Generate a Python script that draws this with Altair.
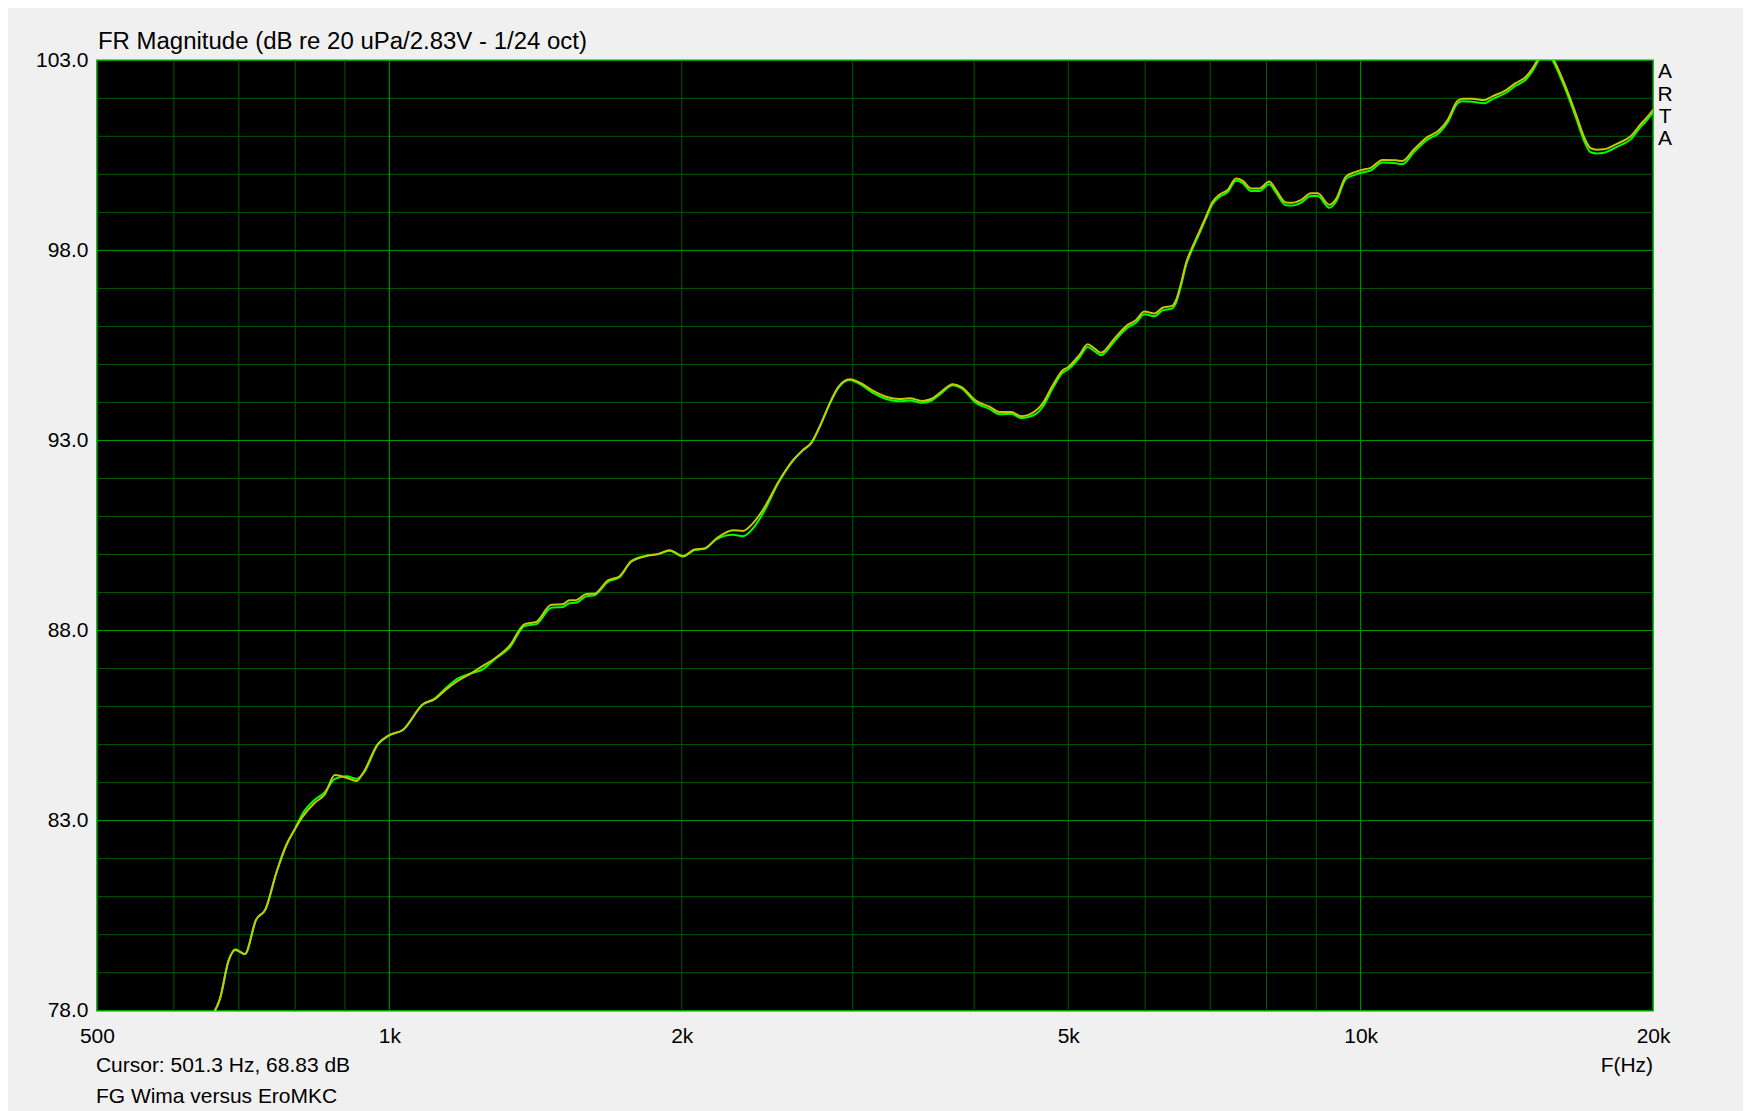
import altair as alt
import pandas as pd

# ---- data ----
freq = [645, 669, 683, 694, 710, 729, 746, 765, 784, 799, 815, 838, 858, 879, 903, 925, 940, 973, 997,
        1034, 1083, 1113, 1145, 1177, 1215, 1248, 1283, 1330, 1378, 1417, 1468, 1508, 1533, 1556, 1595,
        1626, 1679, 1726, 1774, 1839, 1890, 1943, 2006, 2062, 2111, 2171, 2258, 2312, 2367, 2424, 2522,
        2604, 2666, 2719, 2773, 2840, 2896, 2978, 3061, 3146, 3247, 3351, 3431, 3542, 3612, 3699, 3803,
        3879, 4019, 4148, 4249, 4367, 4470, 4631, 4705, 4820, 4935, 4993, 5134, 5236, 5320, 5405, 5578,
        5757, 5872, 5989, 6132, 6254, 6395, 6455, 6532, 6610, 6714, 6822, 6930, 7041, 7152, 7295, 7441,
        7561, 7711, 7865, 8054, 8182, 8374, 8500, 8677, 8888, 9031, 9284, 9432, 9655, 9848, 10003, 10241,
        10534, 10874, 11041, 11351, 11715, 12042, 12283, 12578, 12728, 13032, 13397, 13665, 14103, 14441,
        14788, 15024, 15201, 15500, 15813, 16258, 16648, 17046, 17249, 17500, 17805, 18377, 18966, 19422,
        19731, 20000]

db_yellow = [77.70, 78.30, 79.31, 79.60, 79.49, 80.39, 80.68, 81.63, 82.38, 82.77, 83.12, 83.47, 83.69,
             84.20, 84.13, 84.04, 84.26, 85.01, 85.23, 85.40, 86.06, 86.19, 86.46, 86.68, 86.88, 87.07,
             87.26, 87.60, 88.17, 88.23, 88.68, 88.69, 88.80, 88.80, 88.96, 88.97, 89.32, 89.43, 89.81,
             89.96, 90.01, 90.11, 89.96, 90.13, 90.16, 90.42, 90.64, 90.62, 90.82, 91.17, 91.96, 92.48,
             92.75, 92.94, 93.36, 93.97, 94.39, 94.61, 94.50, 94.31, 94.15, 94.09, 94.11, 94.04, 94.09,
             94.28, 94.48, 94.41, 94.04, 93.89, 93.75, 93.75, 93.64, 93.79, 93.97, 94.45, 94.85, 94.92,
             95.25, 95.53, 95.42, 95.31, 95.68, 96.04, 96.17, 96.39, 96.34, 96.49, 96.54, 96.69, 97.13,
             97.66, 98.10, 98.49, 98.89, 99.28, 99.46, 99.59, 99.89, 99.83, 99.63, 99.63, 99.81, 99.59,
             99.26, 99.25, 99.32, 99.50, 99.50, 99.20, 99.35, 99.94, 100.05, 100.11, 100.17, 100.38,
             100.37, 100.35, 100.66, 100.98, 101.16, 101.42, 101.93, 101.99, 101.99, 101.95, 102.05,
             102.21, 102.40, 102.56, 102.78, 103.00, 103.35, 103.00, 102.30, 101.60, 100.89, 100.69,
             100.65, 100.66, 100.81, 101.00, 101.32, 101.51, 101.70]

db_green = [77.70, 78.30, 79.31, 79.62, 79.49, 80.39, 80.68, 81.63, 82.38, 82.77, 83.20, 83.55, 83.75,
            84.10, 84.17, 84.10, 84.24, 85.00, 85.23, 85.40, 86.06, 86.21, 86.50, 86.74, 86.88, 86.98,
            87.24, 87.55, 88.12, 88.17, 88.60, 88.62, 88.72, 88.73, 88.90, 88.93, 89.28, 89.40, 89.83,
            89.97, 90.01, 90.10, 89.95, 90.12, 90.15, 90.40, 90.52, 90.48, 90.68, 91.08, 91.94, 92.47,
            92.74, 92.93, 93.35, 93.96, 94.37, 94.59, 94.46, 94.25, 94.09, 94.03, 94.05, 93.99, 94.04,
            94.24, 94.45, 94.38, 93.99, 93.83, 93.69, 93.70, 93.59, 93.70, 93.88, 94.38, 94.78, 94.86,
            95.18, 95.46, 95.35, 95.24, 95.61, 95.97, 96.10, 96.32, 96.27, 96.42, 96.47, 96.62, 97.07,
            97.61, 98.05, 98.44, 98.84, 99.22, 99.40, 99.53, 99.83, 99.77, 99.56, 99.56, 99.74, 99.52,
            99.19, 99.18, 99.25, 99.43, 99.43, 99.12, 99.28, 99.88, 99.98, 100.04, 100.10, 100.31,
            100.29, 100.27, 100.59, 100.91, 101.09, 101.35, 101.86, 101.92, 101.91, 101.87, 101.98,
            102.14, 102.33, 102.49, 102.71, 102.94, 103.28, 102.93, 102.22, 101.51, 100.79, 100.58,
            100.55, 100.57, 100.73, 100.92, 101.25, 101.44, 101.63]

x_grid_minor = [600, 700, 800, 900, 2000, 3000, 4000, 5000, 6000, 7000, 8000, 9000]
x_grid_major = [1000, 10000]
y_grid_minor = [79, 80, 81, 82, 84, 85, 86, 87, 89, 90, 91, 92, 94, 95, 96, 97, 99, 100, 101, 102]
y_grid_major = [83, 88, 93, 98]

x_tick_values = [500, 1000, 2000, 5000, 10000, 20000]
x_tick_labels = ["500", "1k", "2k", "5k", "10k", "20k"]
y_tick_values = [78, 83, 88, 93, 98, 103]

title_text = "FR Magnitude (dB re 20 uPa/2.83V - 1/24 oct)"
cursor_text = "Cursor: 501.3 Hz, 68.83 dB"
note_text = "FG Wima versus EroMKC"
xlabel_text = "F(Hz)"
arta_letters = ["A", "R", "T", "A"]

# ---- chart ----
W, H = 1557, 951
FONT = "Liberation Sans"

xscale = alt.Scale(type="log", domain=[500, 20000], nice=False)
yscale = alt.Scale(domain=[78, 103], nice=False, zero=False)

label_expr = "".join(f"datum.value == {v} ? '{l}' : " for v, l in zip(x_tick_values, x_tick_labels)) + "''"

x_axis = alt.Axis(values=x_tick_values, labelExpr=label_expr, grid=False, ticks=False, tickSize=0,
                  domain=False, labelFlush=False, labelOverlap=False, labelFont=FONT, labelFontSize=21,
                  labelColor="black", labelPadding=15, title=None)
y_axis = alt.Axis(values=y_tick_values, format=".1f", grid=False, ticks=False, tickSize=0, domain=False,
                  labelFont=FONT, labelFontSize=21, labelColor="black", labelPadding=9, title=None,
                  labelOverlap=False)

df = pd.DataFrame({"f": freq, "yellow": db_yellow, "green": db_green})

vminor = alt.Chart(pd.DataFrame({"f": x_grid_minor})).mark_rule(color="#005A00", strokeWidth=1).encode(
    x=alt.X("f:Q", scale=xscale, axis=x_axis))
vmajor = alt.Chart(pd.DataFrame({"f": x_grid_major})).mark_rule(color="#00A000", strokeWidth=1).encode(
    x=alt.X("f:Q", scale=xscale, axis=x_axis))
hminor = alt.Chart(pd.DataFrame({"d": y_grid_minor})).mark_rule(color="#005A00", strokeWidth=1).encode(
    y=alt.Y("d:Q", scale=yscale, axis=y_axis))
hmajor = alt.Chart(pd.DataFrame({"d": y_grid_major})).mark_rule(color="#00A000", strokeWidth=1).encode(
    y=alt.Y("d:Q", scale=yscale, axis=y_axis))

line_green = alt.Chart(df).mark_line(color="#00FF00", strokeWidth=2, clip=True,
                                     interpolate="monotone").encode(
    x=alt.X("f:Q", scale=xscale, axis=x_axis),
    y=alt.Y("green:Q", scale=yscale, axis=y_axis))
line_yellow = alt.Chart(df).mark_line(color="#C8C800", strokeWidth=2, clip=True,
                                      interpolate="monotone").encode(
    x=alt.X("f:Q", scale=xscale, axis=x_axis),
    y=alt.Y("yellow:Q", scale=yscale, axis=y_axis))


def label(text, x, y, align="left", size=21):
    return alt.Chart(pd.DataFrame({"t": [text]})).mark_text(
        align=align, baseline="middle", font=FONT, fontSize=size, color="black").encode(
        x=alt.value(x), y=alt.value(y), text="t:N")


texts = [
    label(title_text, 1, -18, size=24),
    label(cursor_text, -1, 1006),
    label(note_text, -1, 1037),
    label(xlabel_text, W, 1006, align="right"),
]
for i, ch in enumerate(arta_letters):
    texts.append(label(ch, W + 12, 12 + 22.3 * i, align="center"))

chart = alt.layer(vminor, hminor, vmajor, hmajor, line_green, line_yellow, *texts).properties(
    width=W, height=H,
    autosize=alt.AutoSizeParams(type="none"),
    padding={"left": 89, "top": 52, "right": 90, "bottom": 100},
    background="#F0F0F0",
).configure_view(fill="black", stroke="#00A000", strokeWidth=1.5)

chart.save("out.html", embed_options={"renderer": "svg", "actions": False})
